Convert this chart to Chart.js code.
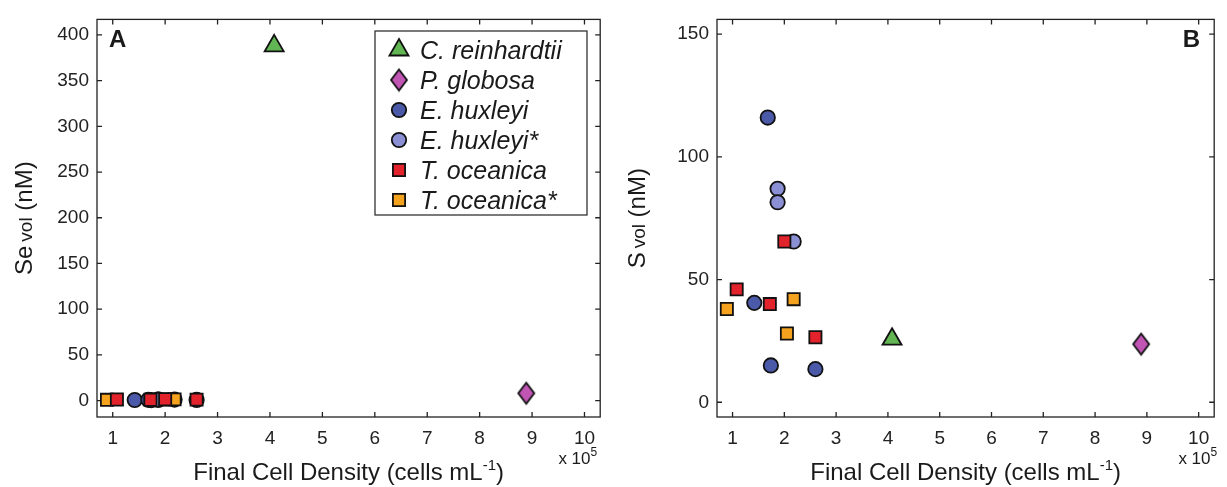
<!DOCTYPE html>
<html>
<head>
<meta charset="utf-8">
<script src="https://cdn.jsdelivr.net/npm/chart.js@4.4.0/dist/chart.umd.min.js"></script>
<style>
  html, body { margin: 0; padding: 0; background: #fff; }
  #wrap { position: relative; width: 1227px; height: 487px; }
  canvas { position: absolute; top: 0; }
  #chartA { left: 0; }
  #chartB { left: 613px; }
</style>
</head>
<body>
<div id="wrap">
  <canvas id="chartA" width="613" height="487"></canvas>
  <canvas id="chartB" width="614" height="487"></canvas>
</div>
<script>
// x values are final cell density in units of 10^5 cells/mL
const species = ['C. reinhardtii', 'P. globosa', 'E. huxleyi', 'E. huxleyi*', 'T. oceanica', 'T. oceanica*'];

const crDensity = [4.08];
const crSe = [388];
const crS = [25.7];

const pgDensity = [8.89];
const pgSe = [8];
const pgS = [23.7];

const ehDensity = [1.42, 1.68, 1.74, 2.6];
const ehSe = [0.6, 0.8, 0.5, 0.7];
const ehS = [40.5, 116, 15, 13.5];

const ehsDensity = [1.87, 1.87, 2.18];
const ehsSe = [0.9, 0.9, 1.1];
const ehsS = [87, 81.5, 65.5];

const toDensity = [1.08, 1.72, 2.0, 2.6];
const toSe = [1.2, 0.9, 1.4, 1.0];
const toS = [46, 40, 65.5, 26.5];

const tosDensity = [0.89, 2.05, 2.18];
const tosSe = [0.8, 1.1, 1.3];
const tosS = [38, 28, 42];

const FONT = '"Liberation Sans", Arial, Helvetica, sans-serif';

function diamond(w, h, fill) {
  const c = document.createElement('canvas');
  c.width = w + 4; c.height = h + 4;
  const g = c.getContext('2d');
  g.beginPath();
  g.moveTo(c.width / 2, 2);
  g.lineTo(c.width - 2, c.height / 2);
  g.lineTo(c.width / 2, c.height - 2);
  g.lineTo(2, c.height / 2);
  g.closePath();
  g.fillStyle = fill; g.fill();
  g.lineWidth = 1.8; g.strokeStyle = '#111'; g.stroke();
  return c;
}

const styles = [
  { pointStyle: 'triangle', radius: 11, color: '#62b553', order: 0 },
  { pointStyle: diamond(16, 21, '#c055b4'), radius: 10, color: '#c055b4', order: 0 },
  { pointStyle: 'circle', radius: 7.2, color: '#4b5aa8', order: 4 },
  { pointStyle: 'circle', radius: 7.2, color: '#8b8fd3', order: 3 },
  { pointStyle: 'rect', radius: 8.6, color: '#e3232b', order: 1 },
  { pointStyle: 'rect', radius: 8.6, color: '#f5a21f', order: 2 }
];

function ds(i, xs, ys) {
  const s = styles[i];
  return {
    label: species[i],
    data: xs.map((x, k) => ({ x: x, y: ys[k] })),
    pointStyle: s.pointStyle,
    pointRadius: s.radius,
    pointHoverRadius: s.radius,
    backgroundColor: s.color,
    borderColor: '#111',
    borderWidth: 1.8,
    order: s.order,
    showLine: false
  };
}

function keepSteps(scale, step) {
  scale.ticks = scale.ticks.filter(t => Math.abs(t.value / step - Math.round(t.value / step)) < 1e-9);
}

const framePlugin = {
  id: 'frame',
  beforeDatasetsDraw(chart) {
    const { ctx, chartArea: a, scales: { x, y } } = chart;
    ctx.save();
    ctx.strokeStyle = '#222';
    ctx.lineWidth = 1.3;
    ctx.strokeRect(a.left, a.top, a.right - a.left, a.bottom - a.top);
    ctx.beginPath();
    x.ticks.forEach(t => {
      const px = x.getPixelForValue(t.value);
      ctx.moveTo(px, a.bottom); ctx.lineTo(px, a.bottom - 5);
      ctx.moveTo(px, a.top); ctx.lineTo(px, a.top + 5);
    });
    y.ticks.forEach(t => {
      const py = y.getPixelForValue(t.value);
      ctx.moveTo(a.left, py); ctx.lineTo(a.left + 5, py);
      ctx.moveTo(a.right, py); ctx.lineTo(a.right - 5, py);
    });
    ctx.stroke();
    ctx.restore();
  },
  afterDraw(chart, args, opts) {
    const { ctx, chartArea: a } = chart;
    ctx.save();
    ctx.fillStyle = '#1a1a1a';
    ctx.textBaseline = 'alphabetic';

    // panel letter
    ctx.font = 'bold 24px ' + FONT;
    if (opts.letterRight) {
      ctx.textAlign = 'right';
      ctx.fillText(opts.letter, a.right - 14, 47);
    } else {
      ctx.textAlign = 'left';
      ctx.fillText(opts.letter, a.left + 12, 47);
    }
    ctx.textAlign = 'left';

    // x axis title with superscript
    const cx = (a.left + a.right) / 2;
    ctx.font = '24px ' + FONT;
    const t1 = 'Final Cell Density (cells mL';
    const w1 = ctx.measureText(t1).width;
    const w3 = ctx.measureText(')').width;
    ctx.font = '15px ' + FONT;
    const w2 = ctx.measureText('-1').width;
    let tx = cx - (w1 + w2 + w3) / 2;
    ctx.font = '24px ' + FONT;
    ctx.fillText(t1, tx, 480);
    ctx.font = '15px ' + FONT;
    ctx.fillText('-1', tx + w1, 470);
    ctx.font = '24px ' + FONT;
    ctx.fillText(')', tx + w1 + w2, 480);

    // x 10^5 multiplier
    ctx.font = '17px ' + FONT;
    const m1 = ctx.measureText('x 10').width;
    ctx.font = '12px ' + FONT;
    const m2 = ctx.measureText('5').width;
    const mx = a.right + opts.multShift - m1 - m2;
    ctx.font = '17px ' + FONT;
    ctx.fillText('x 10', mx, 464);
    ctx.font = '12px ' + FONT;
    ctx.fillText('5', mx + m1, 456);

    // y axis title with subscript
    ctx.save();
    ctx.translate(32, (a.top + a.bottom) / 2);
    ctx.rotate(-Math.PI / 2);
    ctx.font = '24px ' + FONT;
    const y1 = ctx.measureText(opts.yMain).width;
    const y3 = ctx.measureText(' (nM)').width;
    ctx.font = '19px ' + FONT;
    const y2 = ctx.measureText('vol').width;
    const gap = 4;
    let ty = -(y1 + gap + y2 + y3) / 2;
    ctx.font = '24px ' + FONT;
    ctx.fillText(opts.yMain, ty, 0);
    ctx.font = '19px ' + FONT;
    ctx.fillText('vol', ty + y1 + gap, 0);
    ctx.font = '24px ' + FONT;
    ctx.fillText(' (nM)', ty + y1 + gap + y2, 0);
    ctx.restore();

    // legend inside panel A
    if (opts.legend) {
      const L = opts.legend;
      ctx.fillStyle = '#fff';
      ctx.fillRect(L.x, L.y, L.w, L.h);
      ctx.strokeStyle = '#333';
      ctx.lineWidth = 1.3;
      ctx.strokeRect(L.x, L.y, L.w, L.h);
      chart.data.datasets.forEach((d, i) => {
        const ry = L.y + L.first + i * L.step;
        ctx.fillStyle = d.backgroundColor;
        ctx.strokeStyle = '#111';
        ctx.lineWidth = 1.8;
        Chart.helpers.drawPoint(ctx, { pointStyle: d.pointStyle, radius: d.pointRadius, borderWidth: 1.8, rotation: 0 }, L.x + 24, ry);
        ctx.fillStyle = '#1a1a1a';
        ctx.font = 'italic 25px ' + FONT;
        ctx.fillText(d.label, L.x + 45, ry + 9);
      });
    }
    ctx.restore();
  }
};

function makeOptions(yMin, yMax, yStep, yWidth, rightPad, frameOpts) {
  return {
    responsive: false,
    animation: false,
    events: [],
    layout: { padding: { top: 15, right: rightPad, left: 0, bottom: 0 } },
    plugins: { legend: { display: false }, tooltip: { enabled: false }, frame: frameOpts },
    scales: {
      x: {
        type: 'linear', min: 0.7, max: 10.3,
        afterBuildTicks: s => keepSteps(s, 1),
        afterFit: s => { s.height = 70; },
        grid: { display: false, drawTicks: false },
        border: { display: false },
        ticks: { stepSize: 1, includeBounds: false, padding: 10, color: '#222', maxRotation: 0, autoSkip: false, font: { family: FONT, size: 19 } }
      },
      y: {
        type: 'linear', min: yMin, max: yMax,
        afterBuildTicks: s => keepSteps(s, yStep),
        afterFit: s => { s.width = yWidth; },
        grid: { display: false, drawTicks: false },
        border: { display: false },
        ticks: { stepSize: yStep, includeBounds: false, padding: 8, color: '#222', autoSkip: false, font: { family: FONT, size: 19 } }
      }
    }
  };
}

new Chart(document.getElementById('chartA'), {
  type: 'scatter',
  data: {
    datasets: [
      ds(0, crDensity, crSe),
      ds(1, pgDensity, pgSe),
      ds(2, ehDensity, ehSe),
      ds(3, ehsDensity, ehsSe),
      ds(4, toDensity, toSe),
      ds(5, tosDensity, tosSe)
    ]
  },
  options: makeOptions(-18, 417, 50, 97, 11, {
    letter: 'A', letterRight: false, yMain: 'Se', multShift: -3,
    legend: { x: 375, y: 31, w: 212, h: 184, first: 19, step: 30 }
  }),
  plugins: [framePlugin]
});

new Chart(document.getElementById('chartB'), {
  type: 'scatter',
  data: {
    datasets: [
      ds(0, crDensity, crS),
      ds(1, pgDensity, pgS),
      ds(2, ehDensity, ehS),
      ds(3, ehsDensity, ehsS),
      ds(4, toDensity, toS),
      ds(5, tosDensity, tosS)
    ]
  },
  options: makeOptions(-6, 156, 50, 104, 6, {
    letter: 'B', letterRight: true, yMain: 'S', multShift: 3, legend: null
  }),
  plugins: [framePlugin]
});
</script>
</body>
</html>
